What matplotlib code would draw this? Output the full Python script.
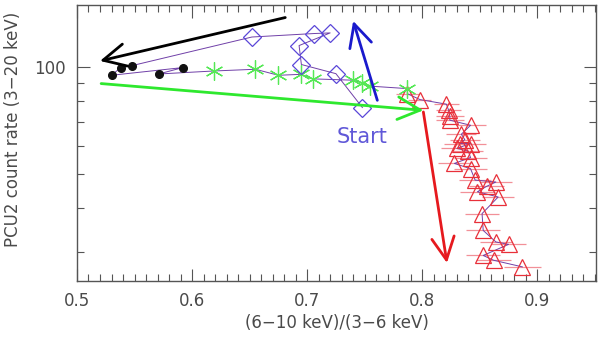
import numpy as np
import matplotlib
matplotlib.use("Agg")
import matplotlib.pyplot as plt
from matplotlib.ticker import FixedLocator, NullFormatter, FixedFormatter

# ---- data (hardness ratio vs count rate) ----
diamond_x = [0.748, 0.725, 0.695, 0.693, 0.720, 0.706, 0.652]
diamond_y = [76.9, 95.9, 101.8, 115.2, 125.1, 124.6, 121.8]

dot_x = [0.548, 0.538, 0.530, 0.592, 0.571]
dot_y = [101.1, 99.8, 94.9, 99.8, 95.7]

star_x = [0.619, 0.655, 0.675, 0.695, 0.705, 0.740, 0.748, 0.755, 0.787]
star_y = [97.6, 98.7, 94.9, 95.5, 92.7, 91.9, 90.3, 88.4, 87.0]

tri_x = [0.787, 0.798, 0.821, 0.823, 0.824, 0.824, 0.842, 0.834, 0.837, 0.833,
         0.842, 0.830, 0.840, 0.842, 0.828, 0.842, 0.846, 0.864, 0.856, 0.848,
         0.866, 0.852, 0.853, 0.864, 0.875, 0.853, 0.862, 0.887]
tri_y = [84.2, 81.0, 78.6, 75.5, 72.6, 70.8, 68.5, 64.6, 62.4, 60.8,
         60.8, 58.9, 57.9, 55.5, 53.4, 51.6, 47.9, 47.3, 46.0, 44.4,
         42.9, 38.5, 34.5, 32.0, 31.5, 29.3, 28.4, 27.2]
tri_xerr = [0.010, 0.010, 0.011, 0.011, 0.012, 0.012, 0.013, 0.013, 0.013, 0.014,
            0.013, 0.014, 0.013, 0.014, 0.014, 0.014, 0.014, 0.014, 0.015, 0.015,
            0.014, 0.015, 0.015, 0.014, 0.015, 0.015, 0.015, 0.016]

# arrows: (x_tail, y_tail, x_head, y_head)
arrow_black = (0.681, 138.3, 0.520, 104.2)
arrow_blue = (0.761, 80.6, 0.740, 135.3)
arrow_green = (0.521, 89.9, 0.801, 75.5)
arrow_red = (0.801, 74.7, 0.8215, 27.9)

xticks = [0.5, 0.6, 0.7, 0.8, 0.9]
xticklabels = ["0.5", "0.6", "0.7", "0.8", "0.9"]
ymajor = [100]
yminor = [30, 40, 50, 60, 70, 80, 90]

txt = "#4a4a4a"
fig = plt.figure(figsize=(6.0, 3.39), dpi=100)
ax = fig.add_axes([0.1283, 0.171, 0.865, 0.814])
ax.set_xscale("linear")
ax.set_yscale("log")
ax.set_xlim(0.5, 0.951)
ax.set_ylim(24.8, 150)

# connecting path (time order)
path_x = diamond_x + dot_x + star_x + tri_x
path_y = diamond_y + dot_y + star_y + tri_y
ax.plot(path_x, path_y, color="#7040a8", lw=0.7, zorder=2)

ax.errorbar(tri_x, tri_y, xerr=tri_xerr, fmt="none", ecolor="#f29098",
            elinewidth=0.9, capsize=0, zorder=1)
ax.plot(tri_x, tri_y, linestyle="none", marker="^", markersize=11,
        markerfacecolor="none", markeredgecolor="#e8303a", markeredgewidth=0.9, zorder=3)
ax.plot(star_x, star_y, linestyle="none", marker=(6, 2, 0), markersize=13,
        color="#55e855", markeredgewidth=0.9, zorder=3)
ax.plot(diamond_x, diamond_y, linestyle="none", marker="D", markersize=9.5,
        markerfacecolor="none", markeredgecolor="#5a46d8", markeredgewidth=0.9, zorder=3)
ax.plot(dot_x, dot_y, linestyle="none", marker="o", markersize=5.5,
        color="#111111", zorder=4)

for arr, col in [(arrow_black, "#000000"), (arrow_blue, "#1a1acc"),
                 (arrow_green, "#2ee82e"), (arrow_red, "#e6191e")]:
    ax.annotate("", xy=(arr[2], arr[3]), xytext=(arr[0], arr[1]),
                arrowprops=dict(arrowstyle="->,head_length=0.9,head_width=0.45",
                                color=col, lw=2, shrinkA=0, shrinkB=0,
                                mutation_scale=18), zorder=5)

ax.text(0.748, 63.5, "Start", color="#6058d8", fontsize=15, ha="center", va="center")

ax.xaxis.set_major_locator(FixedLocator(xticks))
ax.xaxis.set_major_formatter(FixedFormatter(xticklabels))
ax.xaxis.set_minor_locator(FixedLocator(np.arange(0.5, 0.955, 0.01)))
ax.yaxis.set_major_locator(FixedLocator(ymajor))
ax.yaxis.set_major_formatter(FixedFormatter(["100"]))
ax.yaxis.set_minor_locator(FixedLocator(yminor))
ax.yaxis.set_minor_formatter(NullFormatter())

ax.tick_params(which="both", direction="in", top=True, right=True, colors="#555555",
               labelcolor=txt, labelsize=12, width=0.8)
ax.tick_params(which="major", length=9, pad=8)
ax.tick_params(which="minor", length=5)
for s in ax.spines.values():
    s.set_color("#555555")
    s.set_linewidth(1.0)

ax.set_xlabel("(6\u221210 keV)/(3\u22126 keV)", fontsize=12, color=txt, labelpad=3)
ax.set_ylabel("PCU2 count rate (3\u221220 keV)", fontsize=12, color=txt)
ax.yaxis.set_label_coords(-0.105, 0.55)

fig.savefig("out.png", dpi=100)
